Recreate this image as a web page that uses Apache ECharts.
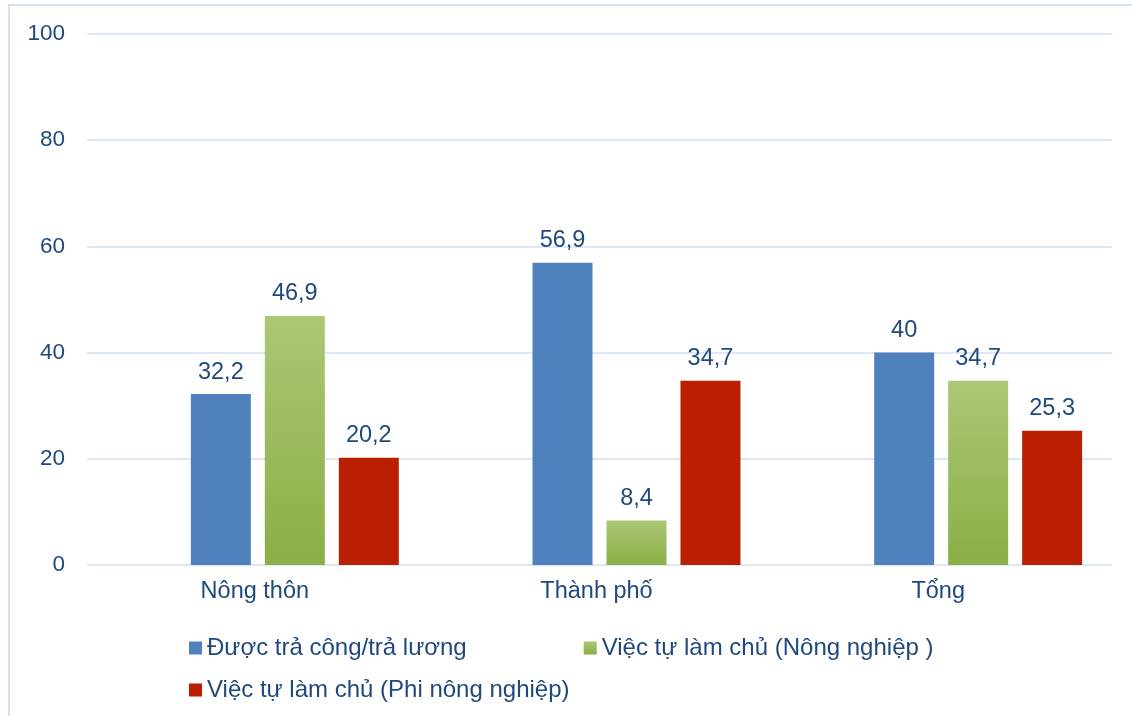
<!DOCTYPE html>
<html>
<head>
<meta charset="utf-8">
<script src="https://cdn.jsdelivr.net/npm/echarts@6/dist/echarts.min.js"></script>
<style>html,body{margin:0;padding:0;background:#fff}#c{width:1132px;height:716px}</style>
</head>
<body>
<div id="c"></div>
<script>
const categories = ['Nông thôn', 'Thành phố', 'Tổng'];
const seriesNames = ['Được trả công/trả lương', 'Việc tự làm chủ (Nông nghiệp )', 'Việc tự làm chủ (Phi nông nghiệp)'];
const wage = [32.2, 56.9, 40];
const selfAgri = [46.9, 8.4, 34.7];
const selfNonAgri = [20.2, 34.7, 25.3];
const yTicks = [0, 20, 40, 60, 80, 100];

const FONT = "'Liberation Sans', Arial, sans-serif";
const TXT = '#1F497D';
const GRIDC = '#D3DFF2';
const FS = 23.5;

const chart = echarts.init(document.getElementById('c'));
const lbl = {
  show: true, position: 'top', distance: 10,
  color: TXT, fontSize: FS, fontFamily: FONT,
  formatter: p => String(p.value).replace('.', ',')
};
const greenGrad = new echarts.graphic.LinearGradient(0, 0, 0, 1, [
  {offset: 0, color: '#ABC775'}, {offset: 1, color: '#8AAF45'}
]);
const legendText = {color: TXT, fontSize: 24, fontFamily: FONT};
chart.setOption({
  animation: false,
  backgroundColor: '#fff',
  graphic: [{
    type: 'rect', shape: {x: 9, y: 5, width: 1200, height: 800},
    style: {fill: null, stroke: '#D6E2F4', lineWidth: 2}, z: -10
  }],
  grid: {left: 87, top: 34, width: 1025, height: 531},
  xAxis: {type: 'category', data: categories,
    axisLine: {show: false}, axisTick: {show: false},
    axisLabel: {color: TXT, fontSize: FS, fontFamily: FONT, margin: 15, padding: [0, 6, 0, 0]}},
  yAxis: {type: 'value', min: yTicks[0], max: yTicks[yTicks.length - 1], interval: 20,
    axisLine: {show: false}, axisTick: {show: false},
    axisLabel: {color: TXT, fontSize: 22.5, fontFamily: FONT, margin: 22},
    splitLine: {show: true, lineStyle: {color: GRIDC, width: 1.5}}},
  legend: [
    {data: [seriesNames[0], seriesNames[1]], left: 184, top: 631, itemWidth: 13, itemHeight: 13,
     itemGap: 117, icon: 'rect', textStyle: legendText},
    {data: [seriesNames[2]], left: 184, top: 673, itemWidth: 13, itemHeight: 13,
     icon: 'rect', textStyle: legendText}
  ],
  series: [
    {name: '_spacer', type: 'bar', data: ['-', '-', '-'], barWidth: 60, barGap: '23.3%',
     itemStyle: {color: 'rgba(0,0,0,0)'}, silent: true},
    {name: seriesNames[0], type: 'bar', data: wage,
     barWidth: 60, barGap: '23.3%', itemStyle: {color: '#4F81BD'}, label: lbl},
    {name: seriesNames[1], type: 'bar', data: selfAgri,
     barWidth: 60, barGap: '23.3%', itemStyle: {color: greenGrad}, label: lbl},
    {name: seriesNames[2], type: 'bar', data: selfNonAgri,
     barWidth: 60, barGap: '23.3%', itemStyle: {color: '#B91F00'}, label: lbl}
  ]
});
</script>
</body>
</html>
